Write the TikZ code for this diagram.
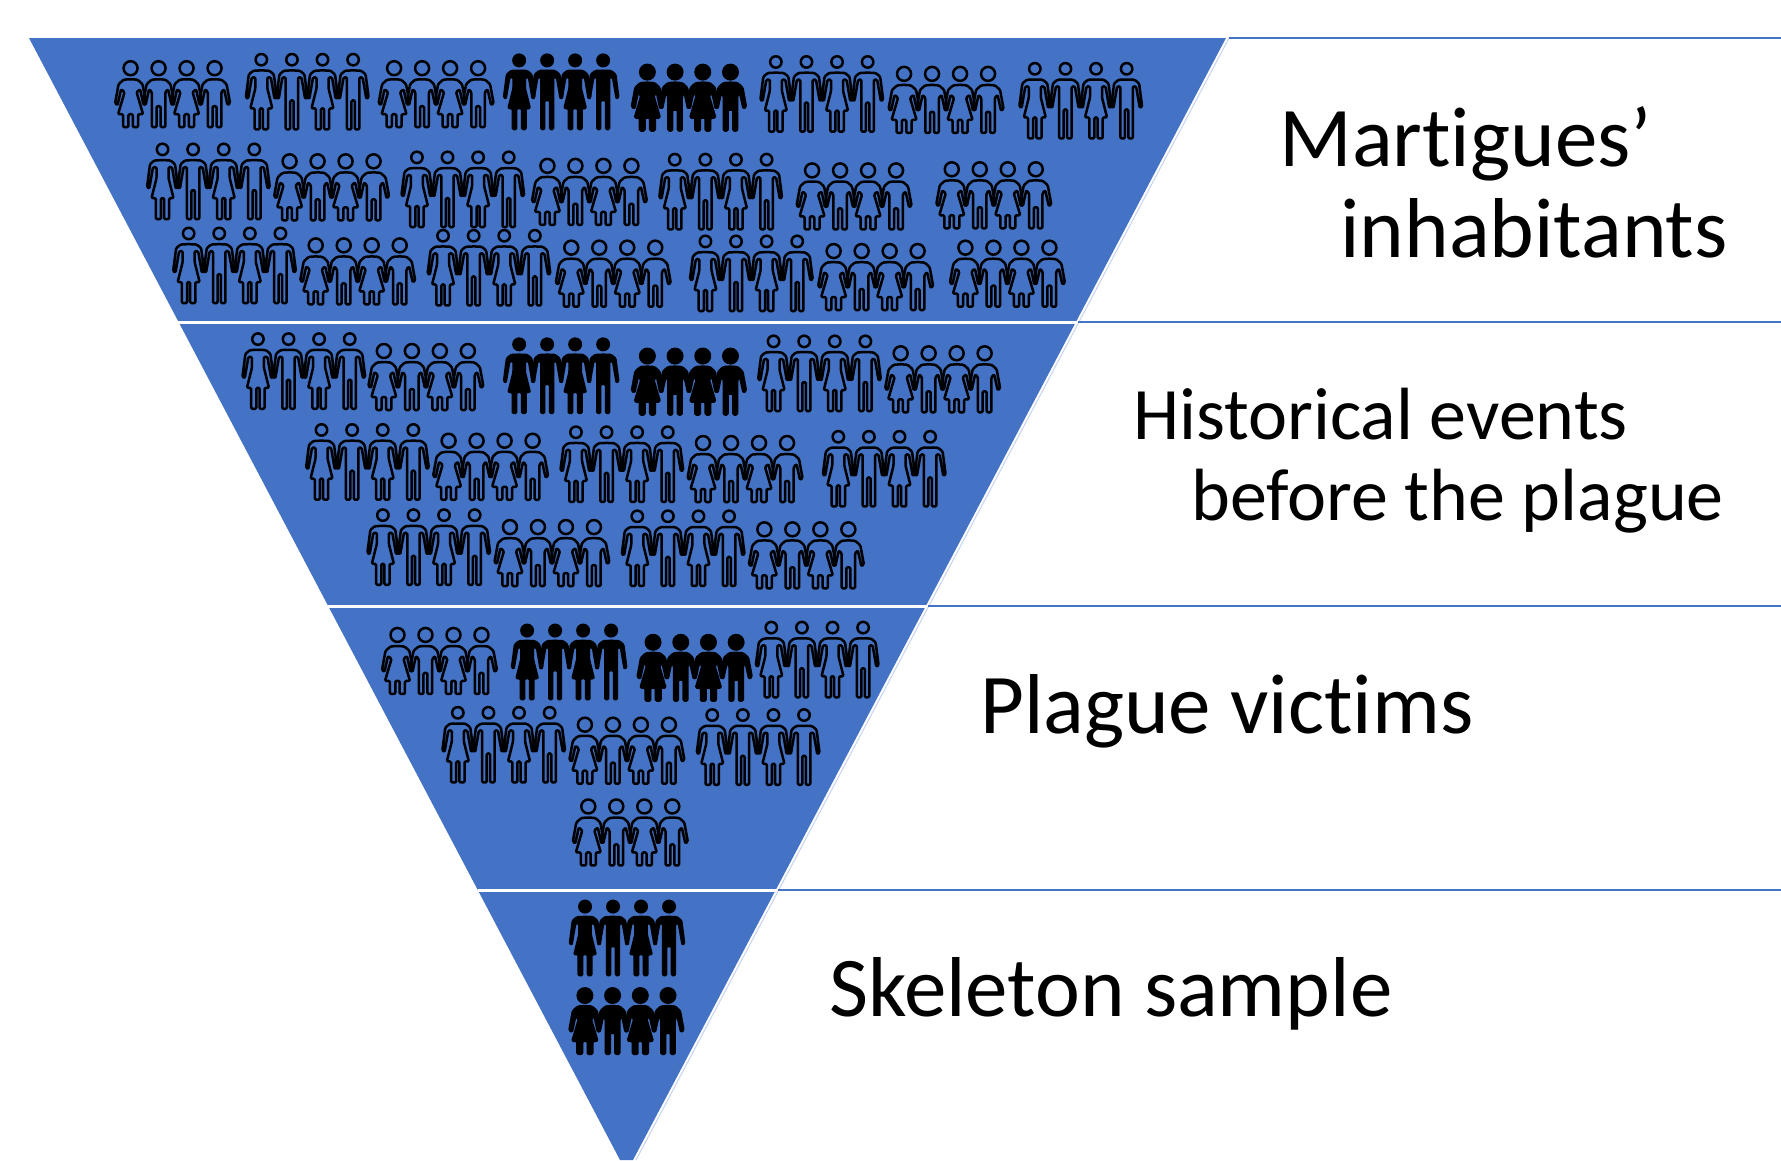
\documentclass[tikz,border=0pt]{standalone}
\usepackage{fontspec}
\setmainfont[Ligatures={NoCommon}]{Carlito}
\definecolor{pyr}{HTML}{4472C4}
\definecolor{pale}{HTML}{C5D3EE}
\newcommand\shapeTW[1]{(0,17)--(8,17.3)--(12.5,21)--(15.5,44)--(13.2,45.5)--(9.5,24)--(6,24)--(6,35)--(11,55)--(6.7,55)--(6.7,76)--(#1,76)--(#1,55)--(-#1,55)--(-#1,76)--(-6.7,76)--(-6.7,55)--(-11,55)--(-6,35)--(-6,24)--(-9.5,24)--(-13.2,45.5)--(-15.5,44)--(-12.5,21)--(-8,17.3)--cycle}
\newcommand\shapeTM[1]{(0,17)--(8,17.3)--(12.5,21)--(15.5,44)--(13.2,45.5)--(9.5,24)--(6.2,24)--(6.2,76)--(#1,76)--(#1,47)--(-#1,47)--(-#1,76)--(-6.2,76)--(-6.2,24)--(-9.5,24)--(-13.2,45.5)--(-15.5,44)--(-12.5,21)--(-8,17.3)--cycle}
\newcommand\shapeSW[1]{(0,19)--(7,19.5)--(12,24)--(15.5,43)--(13,45)--(9.5,29)--(6,32)--(12.5,54)--(7.5,54)--(7.5,67)--(#1,67)--(#1,54)--(-#1,54)--(-#1,67)--(-7.5,67)--(-7.5,54)--(-12.5,54)--(-6,32)--(-9.5,29)--(-13,45)--(-15.5,43)--(-12,24)--(-7,19.5)--cycle}
\newcommand\shapeSM[1]{(0,19)--(7,19.5)--(12,24)--(15.5,43)--(13,45)--(9.5,29)--(6.7,32)--(6.7,67)--(#1,67)--(#1,46)--(-#1,46)--(-#1,67)--(-6.7,67)--(-6.7,32)--(-9.5,29)--(-13,45)--(-15.5,43)--(-12,24)--(-7,19.5)--cycle}
\tikzset{
  oline/.style={draw=black,line width=2.5pt,line join=round,rounded corners=1.2pt},
  solid fig/.style={fill=black,draw=black,line width=#1,line join=round,rounded corners=1.2pt},
  band line/.style={draw=pyr,line width=2.8pt},
  cut line/.style={draw=white,line width=3pt},
  lab/.style 2 args={font=\fontsize{#1}{#2}\selectfont,inner sep=0pt,text=black}
}
\newcommand\OT[2]{\begin{scope}[shift={(#1*1.1358+16,#2*1.1358)}]
 \foreach \i in {0,1,2,3}{\draw[oline] (\i*30.6,6.3) circle[radius=5.7];}
 \draw[oline] \shapeTW{1.6}; \begin{scope}[shift={(61.2,0)}]\draw[oline] \shapeTW{1.6};\end{scope}
 \begin{scope}[shift={(30.6,0)}]\draw[oline] \shapeTM{1.7};\end{scope}
 \begin{scope}[shift={(91.8,0)}]\draw[oline] \shapeTM{1.7};\end{scope}
\end{scope}}
\newcommand\OS[2]{\begin{scope}[shift={(#1*1.1358+17,#2*1.1358)}]
 \foreach \i in {0,1,2,3}{\draw[oline] (\i*28,8) circle[radius=7];}
 \draw[oline] \shapeSW{2.2}; \begin{scope}[shift={(56,0)}]\draw[oline] \shapeSW{2.2};\end{scope}
 \begin{scope}[shift={(28,0)}]\draw[oline] \shapeSM{2};\end{scope}
 \begin{scope}[shift={(84,0)}]\draw[oline] \shapeSM{2};\end{scope}
\end{scope}}
\newcommand\FT[2]{\begin{scope}[shift={(#1*1.1358+16,#2*1.1358)}]
 \foreach \i in {0,1,2,3}{\fill[black] (\i*28,7) circle[radius=7];}
 \path[solid fig=1.8pt] \shapeTW{2.6}; \begin{scope}[shift={(56,0)}]\path[solid fig=1.8pt] \shapeTW{2.6};\end{scope}
 \begin{scope}[shift={(28,0)}]\path[solid fig=1.8pt] \shapeTM{2.6};\end{scope}
 \begin{scope}[shift={(84,0)}]\path[solid fig=1.8pt] \shapeTM{2.6};\end{scope}
\end{scope}}
\newcommand\FS[2]{\begin{scope}[shift={(#1*1.1358+17,#2*1.1358)}]
 \foreach \i in {0,1,2,3}{\fill[black] (\i*27.7,8.5) circle[radius=8.5];}
 \path[solid fig=2.4pt] \shapeSW{2.8}; \begin{scope}[shift={(55.4,0)}]\path[solid fig=2.4pt] \shapeSW{2.8};\end{scope}
 \begin{scope}[shift={(27.7,0)}]\path[solid fig=2.4pt] \shapeSM{2.8};\end{scope}
 \begin{scope}[shift={(83.1,0)}]\path[solid fig=2.4pt] \shapeSM{2.8};\end{scope}
\end{scope}}
\begin{document}
\begin{tikzpicture}[x=1pt,y=-1pt]
\useasboundingbox (0,0) rectangle (1781,1160);
\draw[pale,line width=1pt] (1229,38) -- (636,1160);
\fill[pyr] (29,38) -- (1226,38) -- (633,1160) -- (620,1160) -- cycle;
\coordinate (e0) at (1781,38);  \coordinate (s0) at (1229,38);
\coordinate (e1) at (1781,322); \coordinate (s1) at (1078,322);
\coordinate (e2) at (1781,606); \coordinate (s2) at (928,606);
\coordinate (e3) at (1781,890); \coordinate (s3) at (778,890);
\draw[band line] (s0) -- (e0);
\draw[band line] (s1) -- (e1);
\draw[band line] (s2) -- (e2);
\draw[band line] (s3) -- (e3);
\draw[cut line] (178,322) -- (1077,322);
\draw[cut line] (328,606) -- (927,606);
\draw[cut line] (478,890) -- (777,890);
\OS{100}{53}\OT{216}{47}\OS{332}{53}\FT{443}{47}\FS{555}{56}\OT{669}{49}\OS{781}{58}\OT{897}{55}
\OT{129}{126}\OS{240}{135}\OT{353}{133}\OS{467}{139}\OT{580}{135}\OS{700}{143}\OS{823}{142}
\OT{152}{200}\OS{263}{209}\OT{376}{202}\OS{488}{211}\OT{607}{207}\OS{719}{214}\OS{835}{211}
\OT{213}{293}\OS{323}{302}\FT{443}{297}\FS{555}{306}\OT{667}{295}\OS{778}{304}
\OT{269}{373}\OS{380}{381}\OT{493}{375}\OS{604}{383}\OT{724}{379}
\OT{323}{448}\OS{434}{457}\OT{547}{449}\OS{658}{459}
\OS{335}{552}\FT{450}{549}\FS{560}{558}\OT{665}{547}
\OT{389}{622}\OS{500}{631}\OT{613}{624}
\OS{503}{703}
\FT{501}{792}\FS{500}{869}
\node[lab={85pt}{91pt},align=right,anchor=base east] (l1) at (1728,257) {Martigues’\hspace*{76pt}\\ inhabitants};
\node[lab={74pt}{81pt},align=right,anchor=base east] (l2) at (1724,520) {Historical events\hspace*{96pt}\\ before the plague};
\node[lab={85pt}{91pt},anchor=base west] (l3) at (980,733) {Plague victims};
\node[lab={85pt}{91pt},anchor=base west] (l4) at (829,1016) {Skeleton sample};
\end{tikzpicture}
\end{document}
